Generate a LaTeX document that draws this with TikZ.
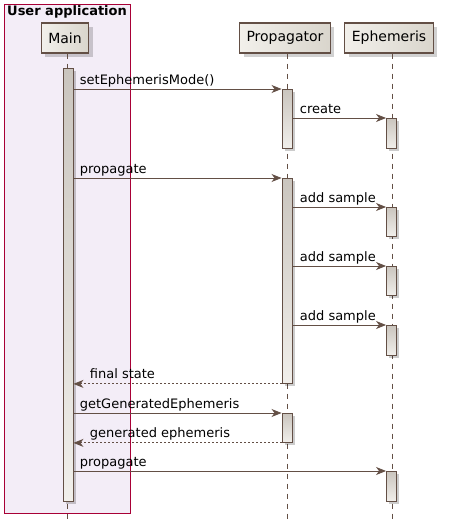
\documentclass[tikz,border=0pt]{standalone}
\usepackage{fontspec}
\setmainfont{DejaVu Sans}
\usetikzlibrary{arrows.meta,shadows}
\definecolor{umlline}{HTML}{634F45}
\definecolor{grpline}{HTML}{A80036}
\definecolor{grpfill}{HTML}{F3EDF7}
\definecolor{partleft}{HTML}{F2F0EB}
\definecolor{partright}{HTML}{D9D5CC}
\definecolor{acttop}{HTML}{CAC5BE}
\definecolor{actbottom}{HTML}{F1EFEB}
\tikzstyle{groupbox} = [draw=grpline, fill=grpfill, line width=1pt, rectangle, inner sep=0pt]
\tikzstyle{grouptitle} = [font=\fontsize{13}{15}\selectfont\bfseries, inner sep=0pt, anchor=base west]
\tikzstyle{participant} = [draw=umlline, line width=1.2pt, rectangle, left color=partleft, right color=partright, minimum height=30pt, inner xsep=7pt, font=\fontsize{14}{16}\selectfont, drop shadow={shadow xshift=4pt, shadow yshift=-4pt, fill=black, opacity=0.18}]
\tikzstyle{actbar} = [draw=umlline, line width=0.9pt, rectangle, top color=acttop, bottom color=actbottom, minimum width=10pt, inner sep=0pt, anchor=north, drop shadow={shadow xshift=2.5pt, shadow yshift=-2.5pt, fill=black, opacity=0.2}]
\tikzstyle{lifeline} = [draw=umlline, line width=0.8pt, dash pattern=on 5pt off 5pt]
\tikzstyle{msg} = [draw=umlline, line width=0.9pt, -{Stealth[length=10pt, width=8pt, inset=3pt]}]
\tikzstyle{ret} = [msg, dash pattern=on 2pt off 2pt]
\tikzstyle{msglabel} = [font=\fontsize{13}{15}\selectfont, inner sep=0pt, anchor=base west]

\begin{document}
\begin{tikzpicture}[x=1pt, y=-1pt]
\useasboundingbox (0,0) rectangle (451,530);

% group box
\node[groupbox, minimum width=126pt, minimum height=509pt, anchor=north west] (userapp) at (4,4) {};
\node[grouptitle] (userapptitle) at (7,15) {User application};

% participants
\node[participant] (main) at (65,38) {Main};
\node[participant] (prop) at (285,38) {Propagator};
\node[participant] (eph) at (389,38) {Ephemeris};

% lifelines
\coordinate (mainend) at (67,521);
\coordinate (propend) at (287,521);
\coordinate (ephend) at (392,521);
\draw[lifeline] ([xshift=2pt]main.south) -- (mainend);
\draw[lifeline] ([xshift=2pt]prop.south) -- (propend);
\draw[lifeline] ([xshift=3pt]eph.south) -- (ephend);

% activations
\node[actbar, minimum height=433pt] (mainact) at (68,68) {};
\node[actbar, minimum height=59pt] (propA) at (287,89) {};
\node[actbar, minimum height=30pt] (ephA) at (391.5,118) {};
\node[actbar, minimum height=205pt] (propB) at (287,178) {};
\node[actbar, minimum height=29pt] (ephB) at (391.5,207) {};
\node[actbar, minimum height=29pt] (ephC) at (391.5,266) {};
\node[actbar, minimum height=30pt] (ephD) at (391.5,325) {};
\node[actbar, minimum height=29pt] (propC) at (287,413) {};
\node[actbar, minimum height=30pt] (ephE) at (391.5,471) {};

% messages
\draw[msg] (mainact.east |- propA.north west) -- node[msglabel, pos=0, xshift=6pt, yshift=5pt] {setEphemerisMode()} (propA.north west);
\draw[msg] (propA.east |- ephA.north west) -- node[msglabel, pos=0, xshift=7pt, yshift=5pt] {create} (ephA.north west);
\draw[msg] (mainact.east |- propB.north west) -- node[msglabel, pos=0, xshift=6pt, yshift=5pt] {propagate} (propB.north west);
\draw[msg] (propB.east |- ephB.north west) -- node[msglabel, pos=0, xshift=7pt, yshift=5pt] {add sample} (ephB.north west);
\draw[msg] (propB.east |- ephC.north west) -- node[msglabel, pos=0, xshift=7pt, yshift=5pt] {add sample} (ephC.north west);
\draw[msg] (propB.east |- ephD.north west) -- node[msglabel, pos=0, xshift=7pt, yshift=5pt] {add sample} (ephD.north west);
\draw[ret] (propB.south west) -- node[msglabel, pos=1, xshift=16pt, yshift=5pt] {final state} (mainact.east |- propB.south west);
\draw[msg] (mainact.east |- propC.north west) -- node[msglabel, pos=0, xshift=6pt, yshift=5pt] {getGeneratedEphemeris} (propC.north west);
\draw[ret] (propC.south west) -- node[msglabel, pos=1, xshift=16pt, yshift=5pt] {generated ephemeris} (mainact.east |- propC.south west);
\draw[msg] (mainact.east |- ephE.north west) -- node[msglabel, pos=0, xshift=6pt, yshift=5pt] {propagate} (ephE.north west);
\end{tikzpicture}
\end{document}
